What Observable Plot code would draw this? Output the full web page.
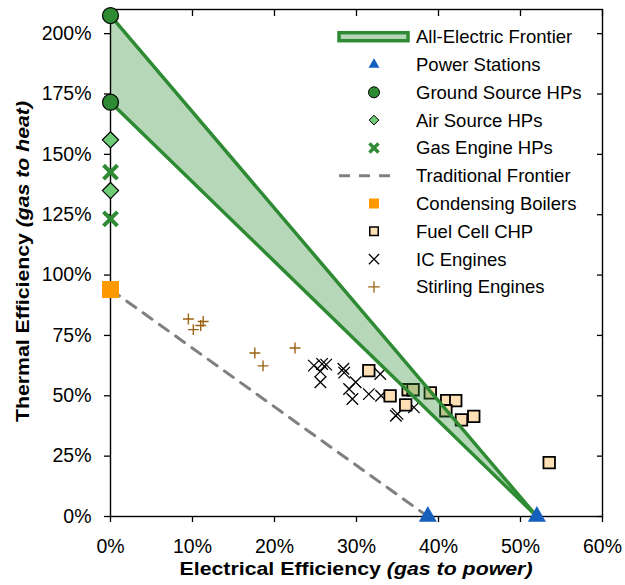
<!DOCTYPE html>
<html><head><meta charset="utf-8">
<script src="https://cdn.jsdelivr.net/npm/d3@7"></script>
<script src="https://cdn.jsdelivr.net/npm/@observablehq/plot@0.6"></script>
<style>
body{margin:0;background:#fff;}
#chart{position:relative;width:625px;height:585px;}
</style>
</head><body><div id="chart"></div>
<script>
// ---- data ----
const seriesNames = ["All-Electric Frontier","Power Stations","Ground Source HPs","Air Source HPs","Gas Engine HPs","Traditional Frontier","Condensing Boilers","Fuel Cell CHP","IC Engines","Stirling Engines"];
const xTicks = [0,10,20,30,40,50,60];
const yTicks = [0,25,50,75,100,125,150,175,200];

const powerElec = [38.7, 52.0];
const powerHeat = [0, 0];
const gshpElec = [0, 0];
const gshpHeat = [207.5, 171.6];
const ashpElec = [0, 0];
const ashpHeat = [156, 135];
const gehpElec = [0, 0];
const gehpHeat = [142.6, 123.3];
const boilerElec = [0];
const boilerHeat = [94];
const fuelElec = [31.5,34.1,36.3,36.9,36.0,39.0,41.0,42.1,40.9,42.8,44.3,53.5];
const fuelHeat = [60.4,50.0,52.5,52.5,46.2,51.2,48.0,48.0,43.8,40.0,41.5,22.3];
const icElec = [24.8,25.8,26.3,25.6,25.6,28.4,28.5,29.9,29.1,29.5,31.5,32.9,33.0,34.8,35.0,37.0];
const icHeat = [62.5,63.2,62.9,60.1,55.6,61.2,59.6,55.6,52.8,48.7,50.7,59.0,50.0,41.7,42.5,45.2];
const stirElec = [9.5,10.1,11.0,11.3,17.6,18.6,22.5];
const stirHeat = [81.8,77.4,79.1,80.8,67.7,62.4,69.8];

// ---- derived tables ----
const pts = (xs, ys) => xs.map((x, i) => ({x, y: ys[i]}));
const frontierArea = [
  {x: gshpElec[0], y1: gshpHeat[1], y2: gshpHeat[0]},
  {x: powerElec[1], y1: powerHeat[1], y2: powerHeat[1]}
];
const frontierUpper = [{x: gshpElec[0], y: gshpHeat[0]}, {x: powerElec[1], y: powerHeat[1]}];
const frontierLower = [{x: gshpElec[1], y: gshpHeat[1]}, {x: powerElec[1], y: powerHeat[1]}];
const tradFrontier = [{x: boilerElec[0], y: boilerHeat[0]}, {x: powerElec[0], y: powerHeat[0]}];

const GREEN = "#2e8b34", BLUE = "#1560bd", ORANGE = "#ff9900", PEACH = "#ffe0b5",
      LIGHTGREEN = "#6fcd78", BROWN = "#9b6414", GREY = "#808080";
const pct = d => d + "%";
const FONT = "'Liberation Sans', Arial, sans-serif";

const chart = Plot.plot({
  width: 625, height: 585,
  marginLeft: 110, marginRight: 23, marginTop: 9, marginBottom: 69,
  style: {fontFamily: FONT, fontSize: "19.5px", background: "white", color: "black"},
  x: {domain: [0, 60]},
  y: {domain: [0, 210]},
  marks: [
    Plot.line(tradFrontier, {x: "x", y: "y", stroke: GREY, strokeWidth: 3, strokeDasharray: "11,9"}),
    Plot.dot(pts(stirElec, stirHeat), {x: "x", y: "y", symbol: "plus", r: 3.6, stroke: BROWN, strokeWidth: 1.4}),
    Plot.dot(pts(icElec, icHeat), {x: "x", y: "y", symbol: "times", r: 5.3, stroke: "black", strokeWidth: 1.3}),
    Plot.dot(pts(fuelElec, fuelHeat), {x: "x", y: "y", symbol: "square", r: 6.5, fill: PEACH, stroke: "black", strokeWidth: 1.8}),
    Plot.areaY(frontierArea, {x: "x", y1: "y1", y2: "y2", fill: GREEN, fillOpacity: 0.35}),
    Plot.line(frontierUpper, {x: "x", y: "y", stroke: GREEN, strokeWidth: 3.5}),
    Plot.line(frontierLower, {x: "x", y: "y", stroke: GREEN, strokeWidth: 3.5}),
    Plot.frame({stroke: "black", strokeWidth: 1.4}),
    Plot.axisX({ticks: xTicks, tickFormat: pct, tickSize: 6, tickPadding: 17, label: null, strokeWidth: 1.3}),
    Plot.axisX({anchor: "top", ticks: xTicks, tickFormat: () => "", tickSize: 6, dy: 6, label: null, strokeWidth: 1.3}),
    Plot.axisY({ticks: yTicks, tickFormat: pct, tickSize: 6, tickPadding: 13, label: null, strokeWidth: 1.3}),
    Plot.axisY({anchor: "right", ticks: yTicks, tickFormat: () => "", tickSize: 6, dx: -6, label: null, strokeWidth: 1.3}),
    Plot.dot(pts(boilerElec, boilerHeat), {x: "x", y: "y", symbol: "square", r: 9.6, fill: ORANGE}),
    Plot.dot(pts(gehpElec, gehpHeat), {x: "x", y: "y", symbol: "times", r: 6.4, stroke: GREEN, strokeWidth: 4}),
    Plot.dot(pts(ashpElec, ashpHeat), {x: "x", y: "y", symbol: "diamond2", r: 7.3, fill: LIGHTGREEN, stroke: "black", strokeWidth: 1.2}),
    Plot.dot(pts(gshpElec, gshpHeat), {x: "x", y: "y", symbol: "circle", r: 8, fill: GREEN, stroke: "black", strokeWidth: 1.2}),
    Plot.dot(pts(powerElec, powerHeat), {x: "x", y: "y", symbol: "triangle", r: 6.7, fill: BLUE})
  ]
});
document.getElementById("chart").append(chart);

// ---- axis titles ----
const svg = d3.select(chart);
const xt = svg.append("text").attr("x", 356).attr("y", 575).attr("text-anchor", "middle")
  .attr("font-size", 18.5).attr("font-weight", "bold").attr("fill", "black")
  .attr("textLength", 353).attr("lengthAdjust", "spacingAndGlyphs");
xt.append("tspan").text("Electrical Efficiency ");
xt.append("tspan").attr("font-style", "italic").text("(gas to power)");
const yt = svg.append("text").attr("transform", "translate(29,261.5) rotate(-90)").attr("text-anchor", "middle")
  .attr("font-size", 19).attr("font-weight", "bold").attr("fill", "black")
  .attr("textLength", 321).attr("lengthAdjust", "spacingAndGlyphs");
yt.append("tspan").text("Thermal Efficiency ");
yt.append("tspan").attr("font-style", "italic").text("(gas to heat)");

// ---- legend ----
const lg = svg.append("g").attr("font-size", 18.5).attr("font-family", FONT).attr("text-anchor", "start");
const LX = 374, TX = 416, LY0 = 36.7, LDY = 27.8;
const sym = (type, size) => d3.symbol(type, size)();
seriesNames.forEach((name, i) => {
  const y = LY0 + i * LDY;
  const g = lg.append("g");
  if (i === 0) {
    g.append("rect").attr("x", 339).attr("y", y - 4).attr("width", 69).attr("height", 8)
      .attr("fill", GREEN).attr("fill-opacity", 0.35).attr("stroke", GREEN).attr("stroke-width", 3.5);
  } else if (i === 5) {
    g.append("line").attr("x1", 339).attr("x2", 397).attr("y1", y).attr("y2", y)
      .attr("stroke", GREY).attr("stroke-width", 3).attr("stroke-dasharray", "11,9");
  } else {
    const t = `translate(${LX},${y})`;
    const spec = {
      1: [d3.symbolTriangle, 52, BLUE, "none", 0],
      2: [d3.symbolCircle, 95, GREEN, "black", 1],
      3: [d3.symbolDiamond2, 60, LIGHTGREEN, "black", 1],
      4: [d3.symbolTimes, 55, "none", GREEN, 3.5],
      6: [d3.symbolSquare, 100, ORANGE, "none", 0],
      7: [d3.symbolSquare, 72, PEACH, "black", 1.5],
      8: [d3.symbolTimes, 70, "none", "black", 1.2],
      9: [d3.symbolPlus, 45, "none", BROWN, 1.3]
    }[i];
    g.append("path").attr("transform", t).attr("d", sym(spec[0], spec[1]))
      .attr("fill", spec[2]).attr("stroke", spec[3]).attr("stroke-width", spec[4]);
  }
  g.append("text").attr("x", TX).attr("y", y).attr("dy", "0.35em").attr("fill", "black").text(name);
});
</script>
</body></html>
